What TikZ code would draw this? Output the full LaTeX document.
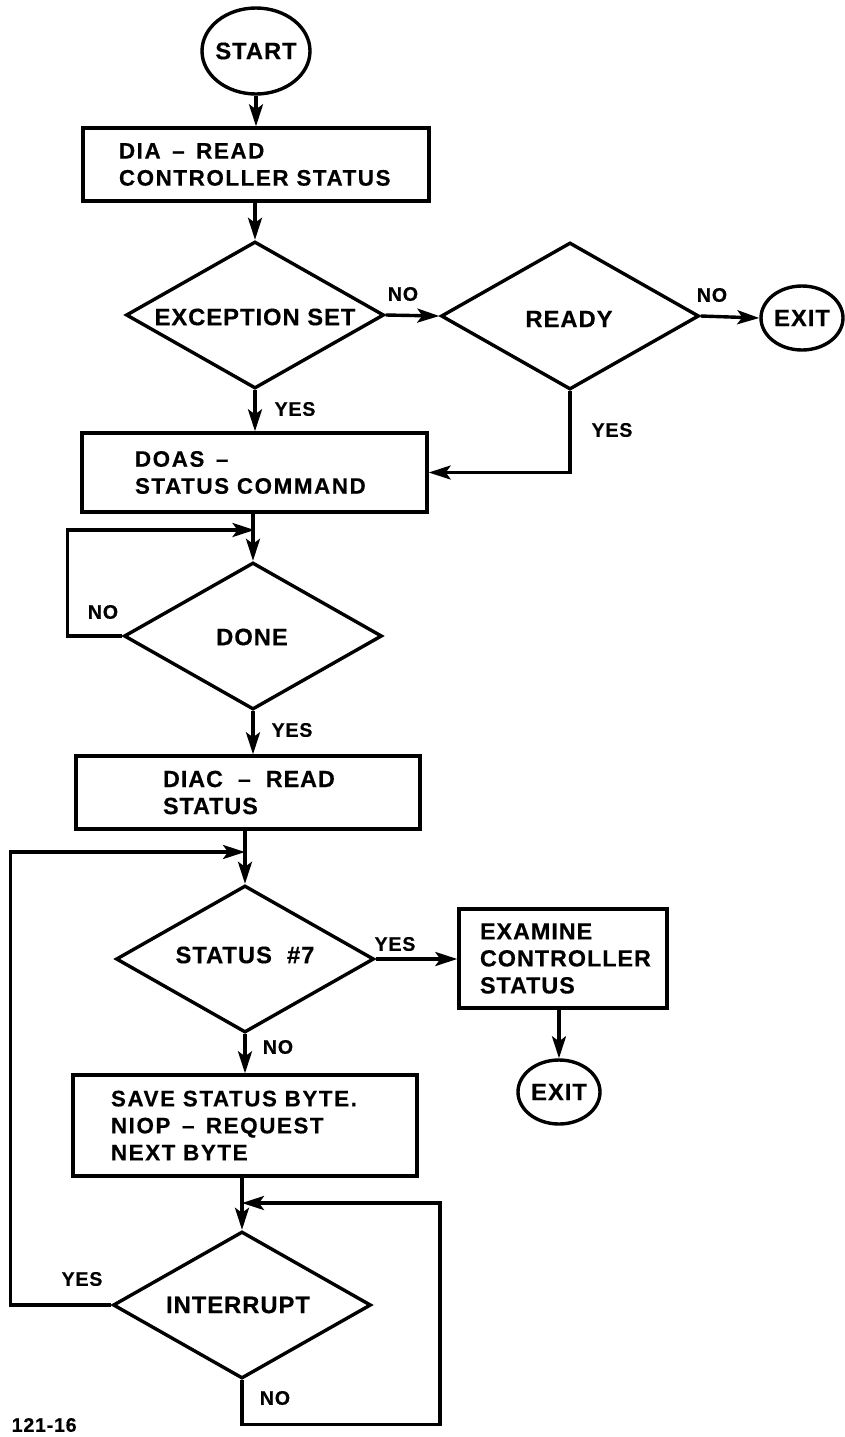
\documentclass[tikz,border=0pt]{standalone}
\usepackage{fontspec}
\setmainfont{Liberation Sans}
\newfontfamily\fA{Liberation Sans}[LetterSpace=7,FakeBold=0.4]
\newfontfamily\fB{Liberation Sans}[LetterSpace=4,FakeBold=0.4]
\usetikzlibrary{shapes.geometric,arrows.meta}
\begin{document}
\begin{tikzpicture}[x=0.5pt,y=-0.5pt,
  line width=1.7pt,
  arr/.style={-{Stealth[length=11pt,width=7pt,inset=2.5pt]}},
  oval/.style={ellipse,draw,line width=1.7pt,inner sep=0pt},
  procbox/.style={rectangle,draw,line width=1.7pt,inner sep=0pt},
  decision/.style={diamond,draw,line width=1.7pt,inner sep=0pt,minimum width=129pt,minimum height=73.5pt},
  boxtxt/.style={anchor=west,align=left,inner sep=0pt,font=\fA\bfseries\fontsize{11.2}{13.5}\selectfont},
  boxtxtB/.style={anchor=west,align=left,inner sep=0pt,font=\fB\bfseries\fontsize{11.7}{13.5}\selectfont},
  dtxt/.style={inner sep=0pt,font=\fB\bfseries\fontsize{11.9}{13.5}\selectfont},
  lbl/.style={inner sep=0pt,font=\fB\bfseries\fontsize{9.8}{11}\selectfont}
]
\useasboundingbox (0,0) rectangle (845,1437);

% terminals
\node[oval,minimum width=54pt,minimum height=43pt] (start) at (256,51) {};
\node[dtxt] (startT) at (start) {START};
\node[oval,minimum width=41pt,minimum height=32pt] (exitA) at (802,318) {};
\node[dtxt] (exitAT) at (exitA) {EXIT};
\node[oval,minimum width=41pt,minimum height=32pt] (exitB) at (559,1092) {};
\node[dtxt] (exitBT) at (exitB) {EXIT};

% process boxes
\node[procbox,minimum width=173pt,minimum height=36.5pt] (b1) at (256,164.5) {};
\node[boxtxt] (b1T) at ([xshift=18pt]b1.west) {DIA \,–\, READ\\CONTROLLER STATUS};
\node[procbox,minimum width=172.5pt,minimum height=39.5pt] (b2) at (254.5,472.5) {};
\node[boxtxt] (b2T) at ([xshift=26.5pt]b2.west) {DOAS \,–\\STATUS COMMAND};
\node[procbox,minimum width=172pt,minimum height=36.5pt] (b3) at (248,792.5) {};
\node[boxtxtB] (b3T) at ([xshift=43.5pt]b3.west) {DIAC \ – \ READ\\STATUS};
\node[procbox,minimum width=172pt,minimum height=50.5pt] (b4) at (245,1125.5) {};
\node[boxtxt] (b4T) at ([xshift=19pt]b4.west) {SAVE STATUS BYTE.\\NIOP \,–\, REQUEST\\NEXT BYTE};
\node[procbox,minimum width=104pt,minimum height=49.5pt] (ex) at (563,958.5) {};
\node[boxtxtB] (exT) at ([xshift=10.5pt]ex.west) {EXAMINE\\CONTROLLER\\STATUS};

% decisions
\node[decision] (d1) at (255,315) {};
\node[dtxt] (d1T) at (255,317) {EXCEPTION SET};
\node[decision] (d2) at (570,316) {};
\node[dtxt] (d2T) at (569,319) {READY};
\node[decision] (d3) at (253,636) {};
\node[dtxt] (d3T) at (252,637) {DONE};
\node[decision] (d4) at (245,959) {};
\node[dtxt] (d4T) at (245,955) {STATUS\ \ \#7};
\node[decision] (d5) at (242,1305) {};
\node[dtxt] (d5T) at (238,1305) {INTERRUPT};

% merge points
\coordinate (m1) at (254.5,530);
\coordinate (m2) at (245,852);
\coordinate (m3) at (242,1203);
\coordinate (r3) at (440,1203);

% connectors
\draw[arr] (start.south) -- (start.south |- b1.north);
\draw[arr] (d1.north |- b1.south) -- (d1.north);
\draw[arr] (d1.east) -- (d2.west);
\draw[arr] (d2.east) -- (exitA.west);
\draw[arr] (d1.south) -- (d1.south |- b2.north);
\draw[arr] (d2.south) |- (b2.east);
\draw[arr] (d3.north |- b2.south) -- (d3.north);
\draw[arr] (d3.west) -- ++(-55,0) |- (m1);
\draw[arr] (d3.south) -- (d3.south |- b3.north);
\draw[arr] (d4.north |- b3.south) -- (d4.north);
\draw[arr] (d4.east) -- (d4.east -| ex.west);
\draw[arr] (exitB.north |- ex.south) -- (exitB.north);
\draw[arr] (d4.south) -- (d4.south |- b4.north);
\draw[arr] (d5.north |- b4.south) -- (d5.north);
\draw[arr] (d5.west) -- ++(-101,0) |- (m2);
\draw[arr] (d5.south) -- ++(0,44) -| (r3) -- (m3);

% labels
\node[lbl] (l1) at (403,294) {NO};
\node[lbl] (l2) at (712,295) {NO};
\node[lbl] (l3) at (295,409) {YES};
\node[lbl] (l4) at (612,430) {YES};
\node[lbl] (l5) at (103,612) {NO};
\node[lbl] (l6) at (292,730) {YES};
\node[lbl] (l7) at (395,944) {YES};
\node[lbl] (l8) at (278,1047) {NO};
\node[lbl] (l9) at (82,1279) {YES};
\node[lbl] (l10) at (275,1398) {NO};
\node[lbl,anchor=west] (fig) at (10,1425) {121-16};
\end{tikzpicture}
\end{document}
